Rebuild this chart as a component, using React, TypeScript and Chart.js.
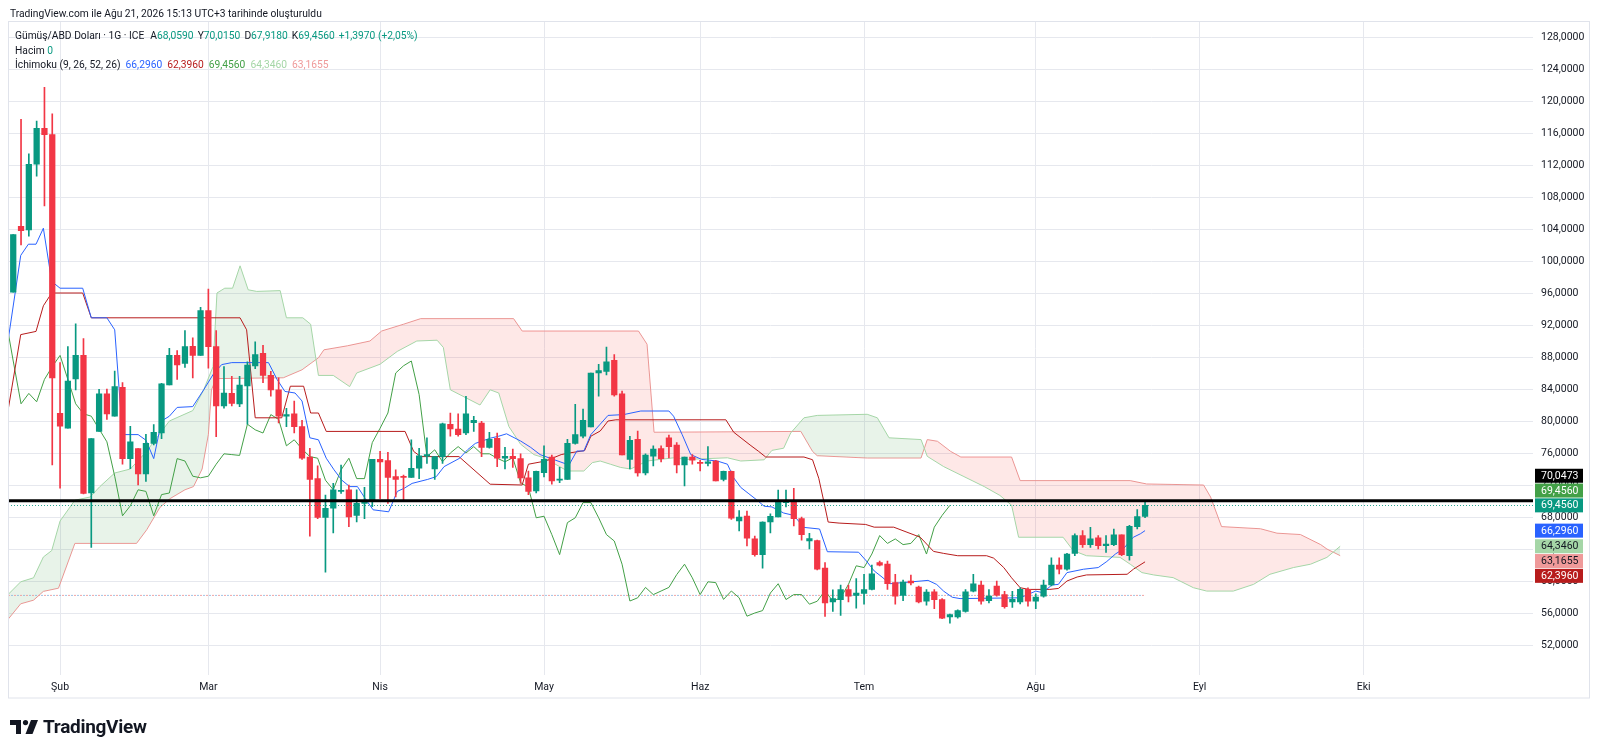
import React, { useEffect, useRef } from "react";
import { Chart, registerables } from "chart.js";

Chart.register(...registerables);

// ---------- DATA ----------
const monthTicks = [6, 25, 47, 68, 88, 109, 131, 152, 173];
const monthLabels = ["Şub", "Mar", "Nis", "May", "Haz", "Tem", "Ağu", "Eyl", "Eki"];
const priceTicks = [52, 56, 60, 64, 68, 72, 76, 80, 84, 88, 92, 96, 100, 104, 108, 112, 116, 120, 124, 128];

const opens = [
  96.1, 104.35, 103.9, 112.1, 116.6, 115.8, 80.95, 79.1, 85.25, 88.2,
  71.0, 78.7, 83.4, 80.6, 84.2, 75.3, 76.55, 73.4, 77.2, 78.5,
  84.5, 88.2, 87.2, 89.35, 88.2, 93.8, 89.3, 81.9, 83.45, 82.15,
  84.4, 86.9, 88.45, 85.7, 83.9, 80.6, 80.9, 79.3, 75.5, 72.8,
  67.95, 69.1, 71.2, 71.4, 68.2, 69.7, 70.05, 75.2, 75.05, 73.05,
  73.1, 72.95, 74.1, 75.6, 74.0, 75.55, 79.6, 79.0, 78.5, 79.8,
  79.75, 76.7, 77.85, 75.35, 75.6, 75.3, 72.9, 71.25, 73.55, 75.5,
  72.6, 72.7, 77.2, 78.1, 79.25, 86.0, 86.2, 87.6, 83.4, 75.2,
  77.7, 73.5, 75.6, 76.55, 77.9, 77.0, 74.5, 75.5, 74.8, 74.7,
  75.0, 72.7, 73.7, 67.5, 68.1, 65.26, 63.28, 67.37, 68.0, 69.8,
  70.1, 67.8, 65.0, 65.05, 61.6, 57.4, 57.68, 58.94, 58.2, 58.44,
  58.94, 62.3, 62.1, 59.8, 58.2, 60.0, 59.24, 57.47, 58.65, 57.68,
  55.5, 55.5, 56.2, 58.73, 59.5, 57.55, 59.36, 58.3, 57.4, 57.39,
  58.95, 57.47, 58.1, 59.5, 62.0, 61.47, 63.45, 65.68, 64.55, 65.4,
  64.42, 64.55, 65.77, 63.16, 66.8, 68.059,
];
const highs = [
  103.3, 117.7, 113.4, 117.5, 121.7, 118.4, 87.3, 89.3, 92.15, 90.3,
  77.8, 83.95, 84.0, 86.25, 84.8, 79.35, 76.55, 78.35, 79.55, 84.7,
  89.1, 88.8, 91.3, 90.4, 94.2, 96.5, 91.3, 86.8, 85.6, 85.6,
  87.4, 89.9, 89.45, 86.2, 85.4, 81.6, 82.5, 80.1, 76.6, 74.4,
  70.75, 72.2, 74.5, 72.0, 71.4, 71.7, 75.2, 76.2, 76.1, 73.9,
  73.25, 77.65, 76.6, 77.9, 75.6, 79.75, 81.0, 80.9, 83.1, 80.6,
  79.95, 78.6, 78.5, 76.7, 76.5, 75.9, 73.75, 73.75, 76.9, 75.75,
  74.2, 77.7, 82.1, 81.5, 86.0, 87.1, 89.25, 88.3, 83.75, 78.1,
  78.75, 75.9, 76.9, 76.9, 78.25, 77.3, 75.5, 75.8, 75.1, 76.8,
  75.1, 73.75, 73.75, 68.8, 68.75, 65.6, 67.4, 68.4, 71.36, 71.36,
  71.6, 68.0, 65.97, 65.1, 62.3, 58.9, 59.5, 59.5, 60.3, 60.84,
  62.0, 62.5, 62.5, 60.84, 60.1, 60.75, 59.36, 58.94, 58.94, 57.8,
  55.87, 56.4, 58.94, 60.84, 60.0, 58.94, 60.0, 58.7, 58.7, 59.16,
  59.16, 58.4, 60.1, 62.9, 62.9, 63.45, 65.9, 66.3, 66.7, 65.68,
  65.68, 66.5, 65.77, 66.95, 68.93, 70.015,
];
const lows = [
  96.1, 102.0, 103.1, 110.6, 106.9, 74.5, 71.6, 79.1, 83.9, 70.9,
  64.2, 78.7, 80.2, 80.6, 74.6, 74.05, 72.0, 72.45, 77.0, 77.8,
  84.5, 85.2, 86.7, 85.4, 88.2, 86.6, 78.05, 81.6, 81.9, 81.8,
  79.6, 86.55, 84.8, 83.1, 79.75, 79.3, 78.5, 75.2, 65.6, 67.8,
  61.1, 66.0, 70.95, 66.8, 67.4, 67.8, 69.3, 70.3, 69.7, 70.5,
  70.0, 72.95, 72.8, 74.7, 72.7, 74.7, 78.1, 78.1, 78.3, 78.7,
  75.55, 76.6, 74.3, 74.0, 74.2, 72.2, 70.8, 71.0, 73.0, 72.1,
  72.3, 72.7, 77.1, 77.9, 79.25, 83.1, 85.75, 83.1, 75.75, 74.0,
  73.1, 73.25, 74.4, 74.9, 75.4, 73.5, 71.9, 74.6, 73.75, 74.4,
  72.5, 72.5, 67.7, 66.25, 64.4, 63.1, 61.6, 66.0, 68.0, 69.26,
  66.9, 65.1, 64.0, 61.4, 55.57, 56.2, 55.7, 57.4, 56.6, 57.1,
  58.9, 61.9, 58.94, 57.1, 57.55, 59.5, 57.26, 56.97, 56.55, 55.28,
  54.73, 55.36, 56.1, 58.65, 57.1, 57.26, 58.1, 56.6, 56.7, 57.14,
  56.84, 56.55, 57.98, 59.4, 60.9, 61.35, 63.16, 64.2, 64.2, 64.0,
  63.58, 64.42, 63.16, 62.6, 66.5, 67.918,
];
const closes = [
  103.3, 103.8, 112.1, 116.6, 115.8, 85.4, 79.35, 85.0, 88.2, 70.95,
  77.8, 83.4, 80.9, 84.3, 75.3, 77.4, 73.4, 77.2, 78.6, 84.65,
  88.2, 87.0, 89.3, 88.2, 93.8, 89.3, 81.9, 83.5, 82.2, 84.5,
  87.0, 88.3, 85.7, 83.9, 80.6, 80.8, 79.3, 75.35, 72.7, 67.95,
  69.1, 71.4, 71.3, 68.0, 69.7, 70.0, 75.2, 74.9, 72.95, 72.7,
  72.95, 74.1, 75.65, 75.8, 75.55, 79.65, 79.0, 78.3, 80.9, 80.1,
  76.7, 77.7, 75.35, 75.6, 75.3, 72.9, 71.2, 73.7, 75.2, 72.5,
  72.75, 77.2, 78.3, 80.1, 86.0, 86.3, 87.4, 83.25, 75.75, 77.6,
  73.5, 75.75, 76.5, 75.3, 76.8, 74.5, 75.5, 75.1, 74.7, 74.9,
  72.5, 73.7, 67.85, 68.0, 65.35, 63.28, 67.37, 68.08, 70.02, 70.0,
  67.8, 65.8, 65.3, 61.47, 57.26, 57.8, 58.94, 58.1, 58.5, 58.94,
  60.9, 61.97, 59.66, 58.1, 59.87, 59.75, 57.4, 58.6, 57.68, 55.36,
  55.8, 56.3, 58.65, 59.66, 57.47, 58.1, 58.23, 56.8, 57.7, 58.95,
  57.47, 57.98, 59.5, 62.0, 61.47, 63.37, 65.68, 64.55, 65.26, 64.42,
  64.63, 65.77, 63.28, 66.82, 68.059, 69.456,
];

// Ichimoku lines: [bar index, price]
const tenkan = [
  [-0.67, 90.0], [0.96, 100.7], [1.94, 102.1], [2.92, 102.1], [3.86, 104.1], [4.93, 97.45], [6.0, 96.6],
  [8.9, 96.6], [10.0, 92.9], [12.0, 92.9], [13.0, 91.4], [14.0, 78.3], [16.0, 78.3], [17.0, 77.6],
  [18.0, 75.3], [19.0, 80.0], [20.0, 80.6], [21.0, 81.7], [23.0, 81.8], [24.4, 83.9], [25.6, 85.8],
  [26.7, 87.05], [28.0, 87.3], [32.7, 87.3], [33.8, 85.2], [34.8, 83.7], [36.1, 83.5], [37.0, 82.5],
  [38.0, 77.9], [39.1, 77.65], [40.1, 75.35], [41.1, 73.9], [42.1, 72.6], [43.1, 71.8], [44.1, 71.8],
  [45.1, 70.3], [46.1, 68.9], [48.1, 68.65], [49.2, 71.2], [50.1, 71.6], [51.1, 72.2], [53.1, 72.7],
  [54.2, 73.05], [55.2, 74.3], [57.2, 75.35], [58.2, 76.4], [59.2, 77.2], [61.1, 77.85], [62.2, 78.1],
  [63.2, 78.4], [65.0, 77.5], [66.3, 76.7], [67.5, 75.8], [69.2, 75.2], [71.2, 74.5], [72.2, 76.25],
  [73.1, 76.25], [74.0, 78.3], [75.2, 79.6], [76.2, 80.7], [78.2, 80.8], [80.4, 81.25], [84.0, 81.25],
  [84.6, 80.6], [85.7, 78.3], [86.8, 75.8], [88.2, 75.2], [90.2, 75.0], [91.5, 74.6], [92.3, 72.9],
  [93.2, 71.7], [94.25, 70.9], [95.3, 70.1], [96.2, 69.35], [97.2, 69.26], [98.7, 68.5], [100.0, 68.2],
  [101.3, 66.7], [103.3, 66.5], [104.3, 63.66], [108.3, 63.6], [109.3, 62.5], [110.3, 61.26],
  [111.3, 60.5], [112.3, 59.66], [116.3, 60.0], [117.2, 60.08], [118.3, 59.57], [119.2, 58.73],
  [120.3, 57.97], [121.3, 57.8], [129.0, 57.9], [131.0, 58.74], [131.9, 58.53], [133.05, 59.5],
  [133.9, 59.58], [135.0, 61.05], [137.1, 61.47], [139.0, 61.68], [140.1, 62.44], [141.2, 63.37],
  [142.2, 64.0], [143.5, 65.47], [144.4, 65.9], [145, 66.296],
];
const kijun = [
  [-0.67, 81.3], [0.96, 90.8], [2.92, 91.2], [3.86, 94.4], [4.93, 96.0], [8.9, 96.0], [10.0, 92.9],
  [29.06, 92.9], [29.9, 91.4], [31.0, 80.4], [34.4, 80.4], [35.5, 84.35], [37.2, 84.35], [38.1, 81.0],
  [39.1, 81.0], [40.1, 78.7], [50.2, 78.7], [51.3, 76.2], [52.2, 75.55], [57.1, 75.55], [61.1, 72.1],
  [65.2, 72.0], [66.0, 74.6], [68.2, 75.0], [69.2, 75.4], [70.2, 75.8], [71.2, 76.0], [73.2, 76.3],
  [74.0, 78.1], [75.2, 78.75], [76.2, 80.0], [77.2, 80.15], [91.3, 80.15], [92.3, 78.6], [94.4, 77.0],
  [95.5, 76.2], [96.4, 75.5], [101.3, 75.5], [102.4, 75.16], [103.2, 72.84], [103.9, 69.7],
  [104.4, 67.37], [105.8, 67.24], [109.2, 67.07], [110.3, 66.73], [112.8, 66.73], [114.5, 66.1],
  [116.2, 65.47], [117.9, 63.7], [119.2, 63.45], [121.0, 63.16], [124.7, 63.16], [125.6, 62.86],
  [126.9, 61.68], [127.9, 60.4], [129.0, 59.16], [130.1, 58.95], [132.8, 58.95], [133.9, 59.07],
  [135.0, 60.0], [136.3, 60.5], [137.5, 60.76], [142.7, 60.84], [143.5, 61.47], [145, 62.396],
];
const chikouFirstIndex = -1;
const chikou = [
  93.0,
  87.5, 82.15, 83.45, 82.4, 85.2, 86.8, 88.2, 85.2, 82.15, 80.9,
  80.6, 79.0, 77.4, 73.1, 68.15, 69.4, 71.4, 71.2, 68.15, 70.8,
  71.0, 75.3, 75.0, 73.1, 72.9, 73.1, 74.6, 75.9, 75.8, 75.7,
  79.6, 78.9, 78.5, 80.8, 80.2, 76.9, 77.65, 76.5, 75.55, 75.35,
  72.6, 71.4, 73.9, 75.35, 72.8, 72.8, 77.3, 79.1, 81.0, 86.0,
  86.9, 87.5, 83.3, 75.55, 76.4, 74.9, 76.0, 76.8, 76.0, 76.8,
  75.9, 75.9, 75.35, 74.9, 75.4, 72.3, 71.7, 67.9, 68.1, 65.8,
  63.3, 67.3, 67.9, 69.8, 69.8, 67.9, 65.8, 65.0, 62.1, 57.5,
  57.9, 59.2, 58.3, 58.75, 59.2, 60.8, 62.1, 60.4, 58.3, 59.9,
  59.8, 57.7, 58.75, 57.9, 55.6, 56.0, 56.3, 58.5, 59.66, 57.68,
  58.3, 58.3, 57.1, 57.47, 58.8, 57.47, 57.9, 59.57, 61.9, 61.68,
  63.37, 65.68, 64.7, 65.26, 64.55, 64.7, 65.8, 63.37, 66.73, 68.2, 69.456,
];
const spanA = [
  [-0.67, 58.3], [0.96, 59.9], [2.6, 60.4], [3.86, 63.0], [4.93, 63.8], [6.0, 67.5], [7.9, 70.1],
  [9.85, 70.5], [11.1, 71.8], [13.0, 73.5], [15.0, 74.0], [17.0, 76.1], [18.0, 77.4], [20.0, 80.0],
  [23.0, 81.3], [24.4, 83.9], [25.6, 86.8], [26.1, 96.0], [27.1, 96.6], [28.1, 96.6], [29.06, 99.4],
  [30.1, 96.4], [31.2, 96.2], [34.2, 96.3], [35.0, 92.9], [37.1, 92.9], [38.1, 92.1], [39.1, 85.7],
  [41.0, 85.7], [43.1, 84.3], [44.0, 86.0], [47.0, 87.1], [49.2, 88.7], [51.7, 90.0], [54.3, 90.1],
  [55.1, 89.2], [56.0, 83.9], [59.8, 82.0], [61.1, 83.9], [62.2, 83.5], [63.5, 79.3], [65.0, 77.1],
  [66.7, 75.8], [68.0, 75.4], [71.0, 73.75], [73.1, 73.75], [74.2, 74.8], [75.2, 75.0], [76.5, 74.6],
  [77.8, 74.2], [79.1, 74.0], [81.2, 75.0], [84.6, 75.4], [86.3, 75.2], [91.5, 75.4], [93.2, 75.0],
  [96.2, 75.15], [97.2, 76.33], [98.7, 76.6], [99.6, 78.5], [101.3, 80.4], [103.0, 80.7],
  [109.4, 80.84], [110.7, 80.4], [112.2, 77.9], [116.3, 77.68], [117.1, 75.58], [119.2, 74.3],
  [121.8, 73.05], [124.4, 71.8], [126.4, 70.7], [127.9, 69.47], [128.8, 65.47], [134.5, 65.47],
  [135.8, 63.8], [137.5, 63.16], [141.8, 62.95], [143.1, 62.1], [144.6, 61.05], [146.1, 60.76],
  [148.6, 60.42], [151.2, 59.16], [152.9, 58.74], [156.3, 58.74], [158.9, 59.58], [161.0, 60.84],
  [164.0, 61.68], [166.2, 62.1], [168.3, 62.95], [170, 64.346],
];
const spanB = [
  [-0.67, 55.2], [0.96, 57.15], [2.6, 57.6], [3.86, 58.7], [5.8, 59.1], [7.9, 64.7], [15.8, 64.7],
  [17.1, 66.4], [18.8, 69.2], [20.1, 70.3], [22.0, 71.4], [23.1, 71.8], [24.2, 74.0], [25.0, 78.3],
  [25.4, 83.9], [26.0, 85.3], [34.6, 85.4], [37.0, 86.4], [39.1, 87.9], [39.8, 88.9], [42.8, 89.4],
  [45.7, 90.0], [47.2, 91.25], [50.0, 92.1], [52.2, 92.8], [64.1, 92.8], [65.2, 91.25], [80.1, 91.25],
  [81.2, 89.6], [82.1, 78.6], [100.9, 78.7], [102.4, 76.2], [103.0, 75.66], [109.4, 75.37],
  [116.3, 75.37], [117.1, 77.68], [118.4, 77.47], [120.1, 76.2], [121.4, 75.5], [127.9, 75.5],
  [129.0, 72.55], [143.1, 72.55], [145.2, 72.13], [152.5, 72.0], [153.4, 70.5], [154.8, 66.8],
  [159.8, 66.53], [161.9, 65.98], [164.9, 65.81], [167.5, 64.55], [168.3, 64.0], [170, 63.1655],
];
const dottedLevel = 58.2;
const dottedRange = [-0.67, 145];
const drawnLevel = 70.0473;
const lastClose = 69.456;
const axisLabelValues = [70.0473, 69.456, 69.456, 66.296, 64.346, 63.1655, 62.396];
const axisLabelTexts = ["70,0473", "69,4560", "69,4560", "66,2960", "64,3460", "63,1655", "62,3960"];
const axisLabelBg = ["#000000", "#43a047", "#089981", "#2962ff", "#a5d6a7", "#ef9a9a", "#b71c1c"];
const axisLabelFg = ["#ffffff", "#ffffff", "#ffffff", "#ffffff", "#131722", "#131722", "#ffffff"];

// ---------- STYLE ----------
const FONT = "Roboto, 'Liberation Sans', sans-serif";
const UP = "#089981";
const DOWN = "#f23645";
const GRID = "#e6e8ee";
const TEXT = "#131722";

const toPts = (arr: number[][]) => arr.map(([x, y]) => ({ x, y }));

const overlayPlugin = {
  id: "overlay",
  afterDatasetsDraw(chart: any) {
    const { ctx, chartArea, scales } = chart;
    const y = scales.y;
    ctx.save();
    ctx.beginPath();
    ctx.rect(chartArea.left, chartArea.top, chartArea.right - chartArea.left, chartArea.bottom - chartArea.top);
    ctx.clip();
    const yc = Math.round(y.getPixelForValue(lastClose)) + 0.5;
    ctx.setLineDash([1, 2]);
    ctx.lineWidth = 1;
    ctx.strokeStyle = "rgba(8,153,129,0.85)";
    ctx.beginPath();
    ctx.moveTo(chartArea.left, yc);
    ctx.lineTo(chartArea.right, yc);
    ctx.stroke();
    ctx.setLineDash([]);
    const yl = y.getPixelForValue(drawnLevel);
    ctx.lineWidth = 3;
    ctx.strokeStyle = "#000000";
    ctx.beginPath();
    ctx.moveTo(chartArea.left, yl);
    ctx.lineTo(chartArea.right, yl);
    ctx.stroke();
    ctx.restore();
  },
  afterDraw(chart: any) {
    const { ctx, chartArea, scales } = chart;
    const y = scales.y;
    ctx.save();
    ctx.strokeStyle = "#e0e3eb";
    ctx.lineWidth = 1;
    ctx.strokeRect(8.5, 21.5, 1581, 676.5);
    const n = axisLabelValues.length;
    const pos = axisLabelValues.map((v) => y.getPixelForValue(v));
    const anchor = 2;
    const H = 14.8;
    for (let i = anchor - 1; i >= 0; i--) pos[i] = Math.min(pos[i], pos[i + 1] - H);
    for (let i = anchor + 1; i < n; i++) pos[i] = Math.max(pos[i], pos[i - 1] + H);
    ctx.font = `10.5px ${FONT}`;
    ctx.textBaseline = "middle";
    ctx.textAlign = "left";
    for (let i = 0; i < n; i++) {
      const x0 = chartArea.right + 2;
      ctx.fillStyle = axisLabelBg[i];
      ctx.fillRect(x0, pos[i] - 7, 48, 14);
      ctx.fillStyle = axisLabelFg[i];
      ctx.fillText(axisLabelTexts[i], x0 + 6, pos[i] + 0.5);
    }
    ctx.restore();
  },
};

export default function App() {
  const ref = useRef<HTMLCanvasElement>(null);
  useEffect(() => {
    const candleColors = closes.map((c, i) => (c >= opens[i] ? UP : DOWN));
    const lineBase = { pointRadius: 0, pointHoverRadius: 0, tension: 0, borderWidth: 1, fill: false };
    const chart = new Chart(ref.current as HTMLCanvasElement, {
      type: "bar",
      data: {
        datasets: [
          { type: "line", label: "Öncü B", data: toPts(spanB), borderColor: "#ef9a9a", ...lineBase, order: 10 } as any,
          {
            type: "line",
            label: "Öncü A",
            data: toPts(spanA),
            borderColor: "#a5d6a7",
            ...lineBase,
            fill: { target: 0, above: "rgba(67,160,71,0.12)", below: "rgba(244,67,54,0.12)" },
            backgroundColor: "transparent",
            order: 9,
          } as any,
          {
            type: "line",
            label: "dotted1",
            data: dottedRange.map((x) => ({ x, y: dottedLevel })),
            borderColor: "rgba(239,154,154,0.9)",
            borderDash: [2, 4],
            ...lineBase,
            order: 8,
          } as any,
          {
            type: "line",
            label: "dotted2",
            data: dottedRange.map((x) => ({ x, y: dottedLevel })),
            borderColor: "rgba(120,170,220,0.7)",
            borderDash: [2, 4],
            borderDashOffset: 3,
            ...lineBase,
            order: 8,
          } as any,
          {
            type: "line",
            label: "Gecikmeli",
            data: chikou.map((v, k) => ({ x: chikouFirstIndex + k, y: v })),
            borderColor: "#43a047",
            ...lineBase,
            order: 6,
          } as any,
          { type: "line", label: "Kijun", data: toPts(kijun), borderColor: "#b71c1c", ...lineBase, order: 5 } as any,
          { type: "line", label: "Tenkan", data: toPts(tenkan), borderColor: "#2962ff", ...lineBase, order: 4 } as any,
          {
            type: "bar",
            label: "wick",
            data: lows.map((l, i) => ({ x: i, y: [l, highs[i]] })),
            backgroundColor: candleColors,
            barThickness: 1,
            grouped: false,
            order: 2,
          } as any,
          {
            type: "bar",
            label: "body",
            data: opens.map((o, i) => ({ x: i, y: [o, closes[i]] })),
            backgroundColor: candleColors,
            barThickness: 5.6,
            minBarLength: 1,
            grouped: false,
            order: 1,
          } as any,
        ],
      },
      options: {
        animation: false,
        responsive: false,
        devicePixelRatio: 1,
        layout: { padding: { left: 8, top: 21.5, right: 10, bottom: 52 } },
        plugins: { legend: { display: false }, tooltip: { enabled: false } },
        events: [],
        scales: {
          x: {
            type: "linear",
            min: -0.67,
            max: 194.7,
            offset: false,
            afterBuildTicks: (s: any) => {
              s.ticks = monthTicks.map((v) => ({ value: v }));
            },
            afterFit: (s: any) => {
              s.height = 23;
            },
            grid: { color: GRID, drawTicks: false, offset: false },
            border: { display: false },
            ticks: {
              autoSkip: false,
              maxRotation: 0,
              padding: 6,
              color: TEXT,
              font: { family: FONT, size: 10.5 },
              callback: (v: any) => monthLabels[monthTicks.indexOf(Number(v))] ?? "",
            },
          },
          y: {
            type: "linear",
            position: "right",
            min: 48.25,
            max: 129.94,
            afterBuildTicks: (s: any) => {
              s.ticks = priceTicks.map((v) => ({ value: v }));
            },
            afterFit: (s: any) => {
              s.width = 57;
            },
            grid: { color: GRID, drawTicks: false },
            border: { display: false },
            ticks: {
              padding: 8,
              color: TEXT,
              font: { family: FONT, size: 10.5 },
              callback: (v: any) => Number(v).toFixed(4).replace(".", ","),
            },
          },
        },
      } as any,
      plugins: [overlayPlugin],
    });
    return () => chart.destroy();
  }, []);

  const lineStyle: React.CSSProperties = {
    position: "absolute",
    left: 15,
    fontSize: 10.25,
    lineHeight: "13px",
    color: TEXT,
    whiteSpace: "nowrap",
  };
  const teal = { color: UP };
  return (
    <div
      style={{
        position: "absolute",
        left: 0,
        top: 0,
        width: 1600,
        height: 750,
        background: "#ffffff",
        overflow: "hidden",
        fontFamily: FONT,
      }}
    >
      <canvas ref={ref} width={1600} height={750} style={{ position: "absolute", left: 0, top: 0, width: 1600, height: 750 }} />
      <div style={{ ...lineStyle, left: 10, top: 6.5 }}>
        TradingView.com ile Ağu 21, 2026 15:13 UTC+3 tarihinde oluşturuldu
      </div>
      <div style={{ ...lineStyle, top: 29 }}>
        Gümüş/ABD Doları · 1G · ICE
        <span style={{ marginLeft: 6 }}>A</span>
        <span style={teal}>68,0590</span>
        <span style={{ marginLeft: 4 }}>Y</span>
        <span style={teal}>70,0150</span>
        <span style={{ marginLeft: 4 }}>D</span>
        <span style={teal}>67,9180</span>
        <span style={{ marginLeft: 4 }}>K</span>
        <span style={teal}>69,4560</span>
        <span style={{ ...teal, marginLeft: 4 }}>+1,3970 (+2,05%)</span>
      </div>
      <div style={{ ...lineStyle, top: 43.5 }}>
        Hacim <span style={teal}>0</span>
      </div>
      <div style={{ ...lineStyle, top: 57.5 }}>
        İchimoku (9, 26, 52, 26)
        <span style={{ color: "#2962ff", marginLeft: 5 }}>66,2960</span>
        <span style={{ color: "#b71c1c", marginLeft: 5 }}>62,3960</span>
        <span style={{ color: "#43a047", marginLeft: 5 }}>69,4560</span>
        <span style={{ color: "#a5d6a7", marginLeft: 5 }}>64,3460</span>
        <span style={{ color: "#ef9a9a", marginLeft: 5 }}>63,1655</span>
      </div>
      <div style={{ position: "absolute", left: 10, top: 715, display: "flex", alignItems: "center" }}>
        <svg width="28" height="14" viewBox="0 0 28 14">
          <path d="M0 0 H11 V14 H6 V5 H0 Z" fill="#131722" />
          <circle cx="15.5" cy="2.6" r="2.6" fill="#131722" />
          <path d="M21 0 H28 L22.5 14 H15.5 Z" fill="#131722" />
        </svg>
        <span style={{ marginLeft: 5, fontSize: 19, fontWeight: 700, color: "#131722", letterSpacing: -0.3 }}>
          TradingView
        </span>
      </div>
    </div>
  );
}
